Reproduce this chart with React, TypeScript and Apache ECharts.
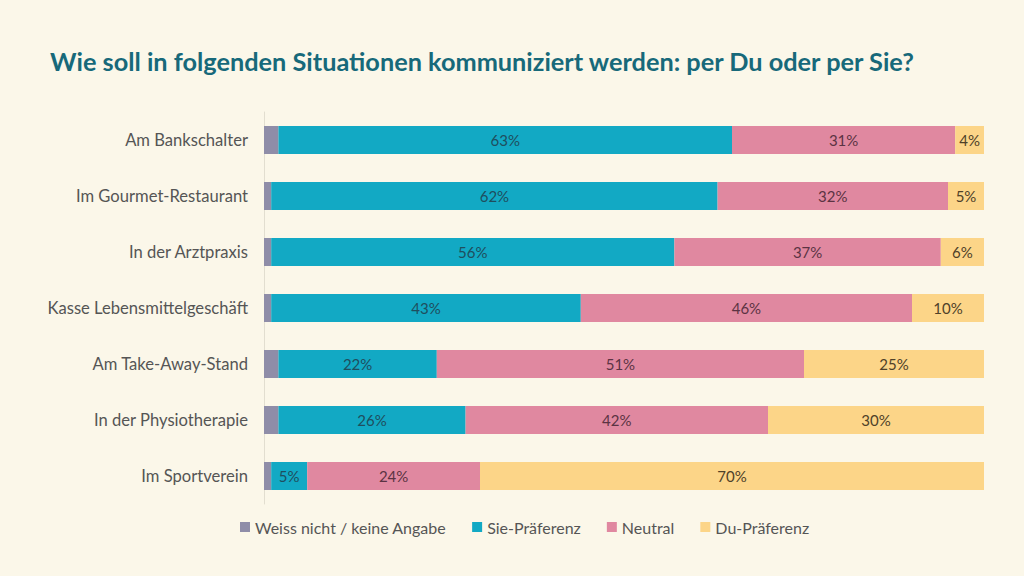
import React, { useEffect, useRef } from "react";
import * as echarts from "echarts";

const categories = [
  "Am Bankschalter",
  "Im Gourmet-Restaurant",
  "In der Arztpraxis",
  "Kasse Lebensmittelgeschäft",
  "Am Take-Away-Stand",
  "In der Physiotherapie",
  "Im Sportverein",
];
const weissNicht = [2, 1, 1, 1, 2, 2, 1];
const siePraeferenz = [63, 62, 56, 43, 22, 26, 5];
const neutral = [31, 32, 37, 46, 51, 42, 24];
const duPraeferenz = [4, 5, 6, 10, 25, 30, 70];

const FONT = "Lato";

export default function App() {
  const ref = useRef<HTMLDivElement>(null);
  useEffect(() => {
    document.body.style.margin = "0";
    const chart = echarts.init(ref.current!, null, { renderer: "svg" });
    const label = (color: string) => ({
      show: true,
      position: "inside",
      formatter: "{c}%",
      color,
      fontFamily: FONT,
      fontSize: 15,
    });
    chart.setOption({
      animation: false,
      backgroundColor: "#FBF7E9",
      textStyle: { fontFamily: FONT },
      title: {
        text: "Wie soll in folgenden Situationen kommuniziert werden: per Du oder per Sie?",
        left: 45,
        top: 43,
        textStyle: { color: "#17697A", fontSize: 25.3, fontWeight: "bold", fontFamily: FONT },
      },
      legend: {
        bottom: 36,
        left: 235,
        itemWidth: 10,
        itemHeight: 10,
        itemGap: 26,
        icon: "rect",
        textStyle: { color: "#555", fontSize: 16, fontFamily: FONT },
        data: ["Weiss nicht / keine Angabe", "Sie-Präferenz", "Neutral", "Du-Präferenz"],
      },
      grid: { left: 264, right: 40, top: 112, height: 392 },
      xAxis: {
        type: "value",
        min: 0,
        max: 100,
        show: false,
      },
      yAxis: {
        type: "category",
        inverse: true,
        data: categories,
        axisLine: { show: true, lineStyle: { color: "#E2DED0", width: 1 } },
        axisTick: { show: false },
        axisLabel: { color: "#555", fontSize: 16.6, margin: 16, fontFamily: FONT },
      },
      series: [
        {
          name: "Weiss nicht / keine Angabe",
          type: "bar",
          stack: "all",
          barWidth: 28,
          data: weissNicht,
          itemStyle: { color: "#8F8DA8" },
        },
        {
          name: "Sie-Präferenz",
          type: "bar",
          stack: "all",
          data: siePraeferenz,
          itemStyle: { color: "#12A9C4" },
          label: label("#1F4E5E"),
        },
        {
          name: "Neutral",
          type: "bar",
          stack: "all",
          data: neutral,
          itemStyle: { color: "#E088A0" },
          label: label("#5B3343"),
        },
        {
          name: "Du-Präferenz",
          type: "bar",
          stack: "all",
          data: duPraeferenz,
          itemStyle: { color: "#FCD588" },
          label: label("#4F4128"),
        },
      ],
    });
    return () => chart.dispose();
  }, []);
  return <div ref={ref} style={{ width: 1024, height: 576 }} />;
}
